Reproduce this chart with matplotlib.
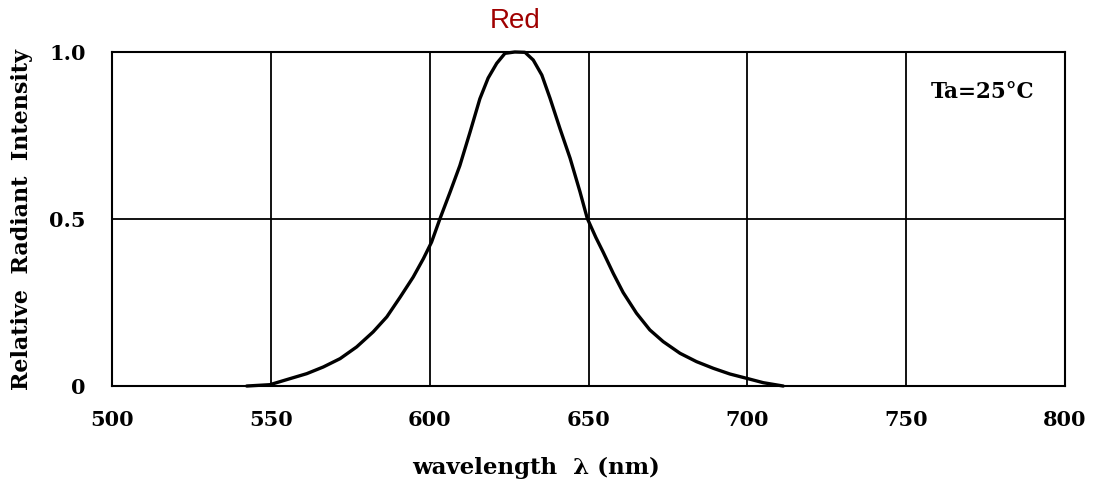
import matplotlib.pyplot as plt
import numpy as np

# spectral curve
wavelength = [542.4, 549.7, 556.0, 561.3, 566.5, 571.8, 577.0, 582.2, 586.5, 590.7,
              594.8, 598.0, 600.6, 603.2, 606.4, 609.5, 612.7, 615.8, 618.4, 621.1,
              623.7, 626.8, 630.0, 632.6, 635.3, 637.9, 641.0, 644.2, 647.3, 649.6,
              652.3, 654.6, 657.8, 660.9, 665.1, 669.3, 673.5, 678.8, 684.0, 689.3,
              694.5, 699.8, 705.0, 711.3]
intensity = [0.0, 0.004, 0.022, 0.037, 0.057, 0.082, 0.117, 0.162, 0.207, 0.266,
             0.326, 0.381, 0.431, 0.50, 0.58, 0.66, 0.76, 0.86, 0.922, 0.966,
             0.996, 1.0, 0.999, 0.976, 0.931, 0.861, 0.771, 0.682, 0.582, 0.502,
             0.445, 0.401, 0.337, 0.280, 0.218, 0.168, 0.133, 0.098, 0.073, 0.053,
             0.036, 0.023, 0.010, 0.0]

x_ticks = [500, 550, 600, 650, 700, 750, 800]
y_ticks = [0, 0.5, 1.0]
y_tick_labels = ["0", "0.5", "1.0"]

serif = "DejaVu Serif"

fig = plt.figure(figsize=(10.94, 4.9), dpi=100)
ax = fig.add_axes([0.1024, 0.2122, 0.8711, 0.6817])

ax.plot(wavelength, intensity, color="black", lw=2.4, clip_on=False, zorder=3,
        solid_joinstyle="round", solid_capstyle="round")

ax.set_xlim(500, 800)
ax.set_ylim(0, 1.0)
ax.set_xticks(x_ticks)
ax.set_yticks(y_ticks)
ax.set_yticklabels(y_tick_labels)
ax.tick_params(length=0, labelsize=15)
ax.tick_params(axis="x", pad=17)
ax.tick_params(axis="y", pad=19)
for lab in ax.get_xticklabels() + ax.get_yticklabels():
    lab.set_family(serif)
    lab.set_weight("bold")

ax.grid(True, color="black", lw=1.3)
for s in ax.spines.values():
    s.set_linewidth(1.5)

ax.set_ylabel("Relative  Radiant  Intensity", family=serif, weight="bold", fontsize=16)
ax.yaxis.set_label_coords(-0.083, 0.5)

fig.text(0.49, 0.045, "wavelength  λ (nm)", family=serif, weight="bold",
         fontsize=16.5, ha="center", va="center")
fig.text(0.471, 0.958, "Red", family="Liberation Sans", fontsize=20,
         color="#a00000", ha="center", va="center")
ax.text(773.9, 0.88, "Ta=25°C", family=serif, weight="bold", fontsize=15.5,
        ha="center", va="center")

fig.savefig("out.png", dpi=100)
